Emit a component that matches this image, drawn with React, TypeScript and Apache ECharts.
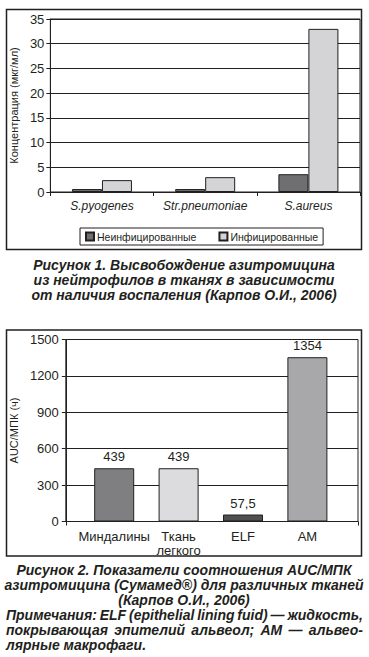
import React, { useEffect, useRef } from "react";
import * as echarts from "echarts";

const topCategories = ["S.pyogenes", "Str.pneumoniae", "S.aureus"];
const uninfected = [0.6, 0.6, 3.6];
const infected = [2.4, 3.0, 33];
const topSeriesNames = ["Неинфицированные", "Инфицированные"];

const bottomCategories = ["Миндалины", "Ткань\nлегкого", "ELF", "AM"];
const bottomValues = [439, 439, 57.5, 1354];
const bottomValueLabels = ["439", "439", "57,5", "1354"];

const caption1 = [
  "Рисунок 1. Высвобождение азитромицина",
  "из нейтрофилов в тканях в зависимости",
  "от наличия воспаления (Карпов О.И., 2006)",
];
const caption2 = [
  "Рисунок 2. Показатели соотношения AUC/МПК",
  "азитромицина (Сумамед®) для различных тканей",
  "(Карпов О.И., 2006)",
];
const notes = [
  "Примечания: ELF (epithelial lining fuid) — жидкость,",
  "покрывающая эпителий альвеол; AM — альвео-",
  "лярные макрофаги.",
];

const INK = "#231f20";
const CAP_FONT = "bold italic 14px 'Liberation Sans', Arial, sans-serif";

function measure(text: string, font: string): number {
  const c = document.createElement("canvas").getContext("2d");
  if (!c) return text.length * 8;
  c.font = font;
  return c.measureText(text).width;
}

function justifiedLine(line: string, y: number, x0: number, x1: number) {
  const words = line.split(" ");
  const widths = words.map((w) => measure(w, CAP_FONT));
  const total = widths.reduce((a, b) => a + b, 0);
  const gap = words.length > 1 ? (x1 - x0 - total) / (words.length - 1) : 0;
  let x = x0;
  return words.map((w, i) => {
    const el = {
      type: "text",
      x,
      y,
      style: {
        text: w,
        font: CAP_FONT,
        fill: INK,
        textAlign: "left",
        textVerticalAlign: "middle",
      },
    };
    x += widths[i] + gap;
    return el;
  });
}

export default function App() {
  const ref = useRef<HTMLDivElement>(null);
  useEffect(() => {
    if (!ref.current) return;
    const chart = echarts.init(ref.current, undefined, { renderer: "svg" });
    const graphics: any[] = [
      {
        type: "rect",
        shape: { x: 6.5, y: 9.5, width: 355, height: 240 },
        style: { fill: "none", stroke: INK, lineWidth: 1.5 },
      },
      {
        type: "rect",
        shape: { x: 6.5, y: 330, width: 355, height: 226 },
        style: { fill: "none", stroke: INK, lineWidth: 1.5 },
      },
    ];
    caption1.forEach((t, i) =>
      graphics.push({
        type: "text",
        x: 184,
        y: 265 + i * 15,
        style: { text: t, font: CAP_FONT, fill: INK, textAlign: "center", textVerticalAlign: "middle" },
      })
    );
    caption2.forEach((t, i) =>
      graphics.push({
        type: "text",
        x: 184,
        y: 570 + i * 15,
        style: { text: t, font: CAP_FONT, fill: INK, textAlign: "center", textVerticalAlign: "middle" },
      })
    );
    graphics.push(...justifiedLine(notes[0], 615, 6, 363));
    graphics.push(...justifiedLine(notes[1], 630, 6, 363));
    graphics.push({
      type: "text",
      x: 6,
      y: 645,
      style: { text: notes[2], font: CAP_FONT, fill: INK, textAlign: "left", textVerticalAlign: "middle" },
    });

    const axisText = { color: INK, fontFamily: "'Liberation Sans', Arial, sans-serif" };

    chart.setOption({
      animation: false,
      backgroundColor: "#fff",
      textStyle: { fontFamily: "'Liberation Sans', Arial, sans-serif", color: INK },
      graphic: graphics,
      legend: {
        data: topSeriesNames,
        orient: "horizontal",
        left: 80,
        top: 228,
        borderColor: INK,
        borderWidth: 1,
        padding: [3, 5, 3, 5],
        itemWidth: 8,
        itemHeight: 8,
        itemGap: 22,
        icon: "rect",
        textStyle: { ...axisText, fontSize: 10.5, padding: [0, 0, 0, -2] },
      },
      grid: [
        { left: 45, top: 19, width: 315, height: 173, show: true, borderColor: INK, borderWidth: 1 },
        { left: 64, top: 339.5, width: 294, height: 182, show: true, borderColor: INK, borderWidth: 1 },
        { left: 82, top: 339.5, width: 257.6, height: 182 },
      ],
      xAxis: [
        {
          gridIndex: 0,
          type: "category",
          data: topCategories,
          axisLine: { show: true, lineStyle: { color: INK, width: 1 } },
          axisTick: { show: true, length: 4, lineStyle: { color: INK } },
          axisLabel: { ...axisText, fontSize: 12, fontStyle: "italic", margin: 8, interval: 0 },
        },
        {
          gridIndex: 1,
          type: "category",
          data: [""],
          axisLine: { show: true, lineStyle: { color: INK, width: 1 } },
          axisTick: { show: true, length: 4, lineStyle: { color: INK } },
          axisLabel: { show: false },
        },
        {
          gridIndex: 2,
          type: "category",
          data: bottomCategories,
          axisLine: { show: false },
          axisTick: { show: false },
          axisLabel: { ...axisText, fontSize: 13, margin: 8, lineHeight: 14, interval: 0 },
        },
      ],
      yAxis: [
        {
          gridIndex: 0,
          type: "value",
          min: 0,
          max: 35,
          interval: 5,
          name: "Концентрация (мкг/мл)",
          nameLocation: "middle",
          nameRotate: 90,
          nameGap: 26,
          nameTextStyle: { ...axisText, fontSize: 11 },
          axisLine: { show: true, lineStyle: { color: INK, width: 1 } },
          axisTick: { show: true, length: 4, lineStyle: { color: INK } },
          axisLabel: { ...axisText, fontSize: 13, margin: 6 },
          splitLine: { show: true, lineStyle: { color: INK, width: 1 } },
        },
        {
          gridIndex: 1,
          type: "value",
          min: 0,
          max: 1500,
          interval: 300,
          name: "AUC/МПК (ч)",
          nameLocation: "middle",
          nameRotate: 90,
          nameGap: 45,
          nameTextStyle: { ...axisText, fontSize: 11 },
          axisLine: { show: true, lineStyle: { color: INK, width: 1 } },
          axisTick: { show: true, length: 4, lineStyle: { color: INK } },
          axisLabel: { ...axisText, fontSize: 13, margin: 7, formatter: (v: number) => String(v) },
          splitLine: { show: true, lineStyle: { color: INK, width: 1 } },
        },
        {
          gridIndex: 2,
          type: "value",
          min: 0,
          max: 1500,
          show: false,
          splitLine: { show: false },
        },
      ],
      series: [
        {
          name: topSeriesNames[0],
          type: "bar",
          xAxisIndex: 0,
          yAxisIndex: 0,
          data: uninfected,
          barWidth: 30,
          barGap: "0%",
          itemStyle: { color: "#6f6f71", borderColor: INK, borderWidth: 1 },
        },
        {
          name: topSeriesNames[1],
          type: "bar",
          xAxisIndex: 0,
          yAxisIndex: 0,
          data: infected,
          barWidth: 30,
          barGap: "0%",
          itemStyle: { color: "#d4d4d6", borderColor: INK, borderWidth: 1 },
        },
        {
          name: "AUC/МПК",
          type: "bar",
          xAxisIndex: 2,
          yAxisIndex: 2,
          barWidth: 40,
          data: bottomValues.map((v, i) => ({
            value: v,
            itemStyle: { color: ["#7f7f82", "#dcdcde", "#4f4f51", "#a8a8ab"][i] },
          })),
          itemStyle: { borderColor: INK, borderWidth: 1 },
          label: {
            show: true,
            position: "top",
            distance: 5,
            ...axisText,
            fontSize: 13,
            formatter: (p: any) => bottomValueLabels[p.dataIndex],
          },
        },
      ],
    });
    return () => chart.dispose();
  }, []);
  return (
    <div
      ref={ref}
      style={{ position: "fixed", left: 0, top: 0, width: 369, height: 657 }}
    />
  );
}
